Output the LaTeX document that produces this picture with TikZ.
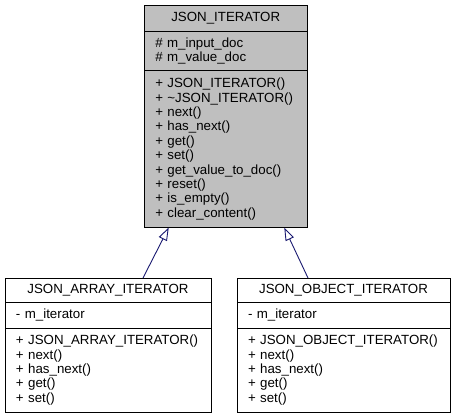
\documentclass[tikz,border=0pt]{standalone}
\usepackage{fontspec}
\setmainfont{Liberation Sans}
\usetikzlibrary{arrows.meta,positioning}

\definecolor{boxgray}{HTML}{BFBFBF}
\definecolor{inhblue}{HTML}{191970}

\begin{document}
\begin{tikzpicture}[
  x=1pt,y=-1pt,
  font=\fontsize{13.3}{14.4}\selectfont,
  boxpart/.style={draw,line width=0.9pt,inner xsep=11pt,inner ysep=0pt,outer sep=0pt},
  titlepart/.style={boxpart,align=center},
  memberpart/.style={boxpart,align=left},
  inherit/.style={draw=inhblue,line width=0.9pt,-{Triangle[open,length=13pt,width=9pt]}}
]
\useasboundingbox (0,0) rectangle (455,419);

% ---- base class ----
\node[titlepart,fill=boxgray,minimum width=163pt,minimum height=26.2pt,anchor=north]
  (iter) at (225.75,5.5) {JSON\_ITERATOR};
\node[memberpart,fill=boxgray,text width=141pt,minimum height=39pt,below=0pt of iter]
  (iterattr) {\#~m\_input\_doc\\ \#~m\_value\_doc};
\node[memberpart,fill=boxgray,text width=141pt,minimum height=156.8pt,below=0pt of iterattr]
  (iterops) {%
  +~JSON\_ITERATOR()\\
  +~\textasciitilde JSON\_ITERATOR()\\
  +~next()\\
  +~has\_next()\\
  +~get()\\
  +~set()\\
  +~get\_value\_to\_doc()\\
  +~reset()\\
  +~is\_empty()\\
  +~clear\_content()};

% ---- array iterator ----
\node[titlepart,minimum width=206pt,minimum height=24.4pt,anchor=north]
  (arr) at (108,278) {JSON\_ARRAY\_ITERATOR};
\node[memberpart,text width=184pt,minimum height=25.6pt,below=0pt of arr]
  (arrattr) {-~m\_iterator};
\node[memberpart,text width=184pt,minimum height=84pt,below=0pt of arrattr]
  (arrops) {%
  +~JSON\_ARRAY\_ITERATOR()\\
  +~next()\\
  +~has\_next()\\
  +~get()\\
  +~set()};

% ---- object iterator ----
\node[titlepart,minimum width=213pt,minimum height=24.4pt,anchor=north]
  (obj) at (343.5,278) {JSON\_OBJECT\_ITERATOR};
\node[memberpart,text width=191pt,minimum height=25.6pt,below=0pt of obj]
  (objattr) {-~m\_iterator};
\node[memberpart,text width=191pt,minimum height=84pt,below=0pt of objattr]
  (objops) {%
  +~JSON\_OBJECT\_ITERATOR()\\
  +~next()\\
  +~has\_next()\\
  +~get()\\
  +~set()};

% ---- inheritance ----
\draw[inherit] ([xshift=35pt]arr.north) -- ([xshift=-57pt]iterops.south);
\draw[inherit] ([xshift=-35.5pt]obj.north) -- ([xshift=58.5pt]iterops.south);

\end{tikzpicture}
\end{document}
